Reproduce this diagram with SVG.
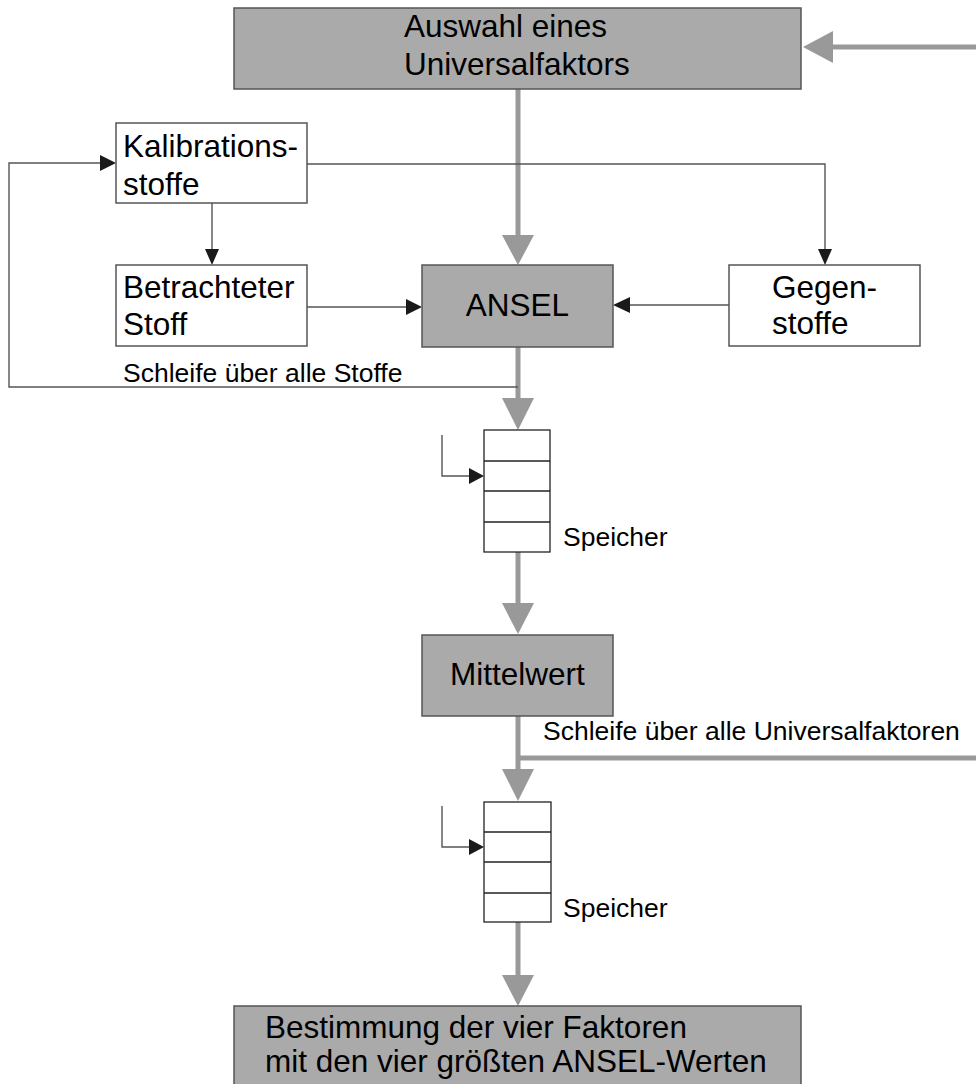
<svg xmlns="http://www.w3.org/2000/svg" width="976" height="1084" viewBox="0 0 976 1084">
<defs>
<style>
.box{fill:#aaaaaa;stroke:#555555;stroke-width:1.5}
.wbox{fill:#ffffff;stroke:#555555;stroke-width:1.5}
.stk{fill:#ffffff;stroke:#222222;stroke-width:1.3}
.big{font-family:"Liberation Sans",Arial,sans-serif;font-size:31.5px;fill:#000}
.small{font-family:"Liberation Sans",Arial,sans-serif;font-size:26.5px;fill:#000}
.thick{stroke:#999999;stroke-width:5;fill:none}
.thin{stroke:#555555;stroke-width:1.4;fill:none}
.gh{fill:#999999}
.bh{fill:#1a1a1a}
</style>
</defs>
<rect width="976" height="1084" fill="#ffffff"/>
<g id="connectors">
<line class="thick" x1="976" y1="47" x2="830" y2="47"/>
<polygon class="gh" points="803,47 833,31 833,63"/>
<line class="thick" x1="518" y1="89" x2="518" y2="237"/>
<polygon class="gh" points="502,235 534,235 518,265"/>
<line class="thick" x1="518" y1="347" x2="518" y2="400"/>
<polygon class="gh" points="502,398 534,398 518,430"/>
<line class="thick" x1="518" y1="552" x2="518" y2="605"/>
<polygon class="gh" points="502,603 534,603 518,634"/>
<line class="thick" x1="518" y1="716" x2="518" y2="771"/>
<line class="thick" x1="518" y1="758" x2="976" y2="758"/>
<polygon class="gh" points="502,769 534,769 518,801"/>
<line class="thick" x1="518" y1="922" x2="518" y2="977"/>
<polygon class="gh" points="502,975 534,975 518,1006"/>
<polyline class="thin" points="518,387 9,387 9,163 102,163"/>
<polygon class="bh" points="100,155 100,171 116,163"/>
<line class="thin" x1="212" y1="203" x2="212" y2="251"/>
<polygon class="bh" points="205,249 219,249 212,265"/>
<polyline class="thin" points="307,164 825,164 825,251"/>
<polygon class="bh" points="818,249 832,249 825,265"/>
<line class="thin" x1="307" y1="307" x2="408" y2="307"/>
<polygon class="bh" points="406,299 406,315 422,307"/>
<line class="thin" x1="729" y1="305" x2="628" y2="305"/>
<polygon class="bh" points="630,297 630,313 613,305"/>
<polyline class="thin" points="442,435 442,476 471,476"/>
<polygon class="bh" points="469,468 469,484 484,476"/>
<polyline class="thin" points="442,806 442,847 471,847"/>
<polygon class="bh" points="469,839 469,855 484,847"/>
</g>
<g id="auswahl">
<rect class="box" x="234" y="8" width="567" height="81"/>
<text class="big" x="404" y="37">Auswahl eines</text>
<text class="big" x="404" y="75">Universalfaktors</text>
</g>
<g id="kalibrationsstoffe">
<rect class="wbox" x="116" y="123" width="191" height="80"/>
<text class="big" x="123" y="157">Kalibrations-</text>
<text class="big" x="123" y="195">stoffe</text>
</g>
<g id="betrachteter">
<rect class="wbox" x="116" y="265" width="191" height="81"/>
<text class="big" x="123" y="298">Betrachteter</text>
<text class="big" x="123" y="335">Stoff</text>
</g>
<g id="ansel">
<rect class="box" x="422" y="265" width="191" height="82"/>
<text class="big" x="517.5" y="316" text-anchor="middle">ANSEL</text>
</g>
<g id="gegenstoffe">
<rect class="wbox" x="729" y="265" width="191" height="81"/>
<text class="big" x="772" y="298">Gegen-</text>
<text class="big" x="772" y="334">stoffe</text>
</g>
<g id="label-stoffe">
<text class="small" x="123" y="382">Schleife über alle Stoffe</text>
</g>
<g id="speicher1">
<rect class="stk" x="484" y="430" width="66" height="122"/>
<line class="stk" x1="484" y1="461" x2="550" y2="461"/>
<line class="stk" x1="484" y1="491" x2="550" y2="491"/>
<line class="stk" x1="484" y1="522" x2="550" y2="522"/>
<text class="small" x="563" y="546">Speicher</text>
</g>
<g id="mittelwert">
<rect class="box" x="422" y="635" width="191" height="81"/>
<text class="big" x="450" y="685">Mittelwert</text>
</g>
<g id="label-universal">
<text class="small" x="543" y="740">Schleife über alle Universalfaktoren</text>
</g>
<g id="speicher2">
<rect class="stk" x="484" y="802" width="67" height="120"/>
<line class="stk" x1="484" y1="832" x2="551" y2="832"/>
<line class="stk" x1="484" y1="862" x2="551" y2="862"/>
<line class="stk" x1="484" y1="893" x2="551" y2="893"/>
<text class="small" x="563" y="917">Speicher</text>
</g>
<g id="bestimmung">
<rect class="box" x="234" y="1006" width="567" height="82"/>
<text class="big" x="265" y="1038">Bestimmung der vier Faktoren</text>
<text class="big" x="265" y="1072">mit den vier größten ANSEL-Werten</text>
</g>
</svg>
